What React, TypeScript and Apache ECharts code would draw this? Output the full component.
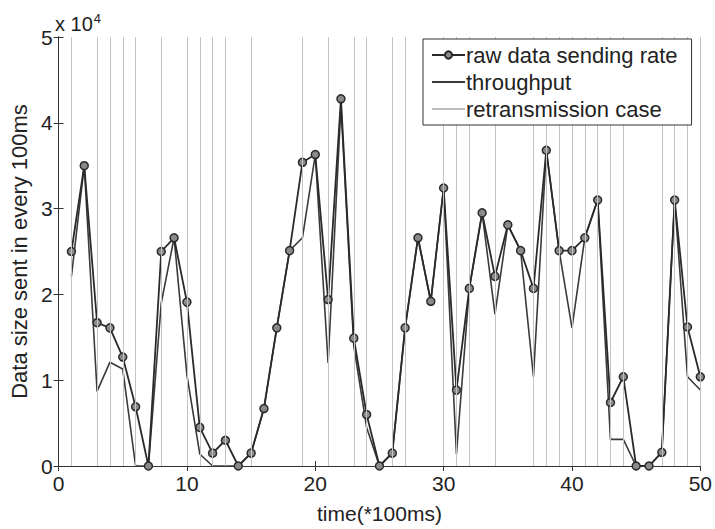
import React, { useEffect, useRef } from "react";
import * as echarts from "echarts";

const xValues = [1,2,3,4,5,6,7,8,9,10,11,12,13,14,15,16,17,18,19,20,21,22,23,24,25,26,27,28,29,30,31,32,33,34,35,36,37,38,39,40,41,42,43,44,45,46,47,48,49,50];

const rawRate = [25000,35000,16700,16100,12700,6900,0,25000,26600,19100,4500,1500,3000,0,1500,6700,16100,25100,35400,36300,19400,42800,14900,6000,0,1500,16100,26600,19200,32400,8850,20700,29500,22100,28100,25100,20700,36800,25100,25100,26600,31000,7400,10400,0,0,1600,31000,16200,10400];

const throughput = [22100,35000,8700,12100,11300,0,0,19000,26600,10600,1400,0,0,0,1500,6700,16100,25100,26600,36300,12000,42000,14000,4500,0,1500,16100,26600,19200,32400,1400,20700,29500,17700,28100,25100,10400,36800,25100,16100,26600,31000,3100,3100,0,0,1600,31000,10400,8850];

const retransmissionX = [1,3,4,5,6,8,10,11,12,13,15,19,21,23,24,26,27,30,31,32,34,37,38,39,40,41,42,43,44,47,48,49,50];

const FONT = "'Liberation Sans', Arial, sans-serif";
const LINE_ICON = "path://M0,0 L33,0 L33,2 L0,2 Z";

export default function App() {
  const ref = useRef<HTMLDivElement>(null);
  useEffect(() => {
    if (!ref.current) return;
    const chart = echarts.init(ref.current, undefined, { renderer: "svg" });
    const axisCommon = {
      type: "value" as const,
      axisLine: { show: true, lineStyle: { color: "#333", width: 1 } },
      axisTick: { show: true, inside: true, length: 5, lineStyle: { color: "#333" } },
      splitLine: { show: false },
    };
    chart.setOption({
      animation: false,
      backgroundColor: "#fff",
      textStyle: { fontFamily: FONT },
      grid: { left: 54, right: 12, top: 37, bottom: 57, containLabel: false },
      graphic: [
        {
          type: "text",
          left: 55,
          top: 12,
          style: {
            text: "{a|x 10}{b|4}",
            rich: {
              a: { fontSize: 20, fontFamily: FONT, fill: "#222", verticalAlign: "bottom" },
              b: { fontSize: 13, fontFamily: FONT, fill: "#222", verticalAlign: "top", padding: [0, 0, 9, 1] },
            },
          },
        },
      ],
      xAxis: [
        {
          ...axisCommon,
          min: 0,
          max: 50,
          interval: 10,
          name: "time(*100ms)",
          nameLocation: "middle",
          nameGap: 37,
          nameTextStyle: { fontSize: 21, color: "#222", fontFamily: FONT },
          axisLabel: { fontSize: 21, color: "#222", margin: 7, fontFamily: FONT },
        },
        {
          ...axisCommon,
          position: "top",
          min: 0,
          max: 50,
          interval: 10,
          axisLabel: { show: false },
        },
      ],
      yAxis: [
        {
          ...axisCommon,
          min: 0,
          max: 50000,
          interval: 10000,
          name: "Data size sent in every 100ms",
          nameLocation: "middle",
          nameGap: 28,
          nameTextStyle: { fontSize: 22, color: "#222", fontFamily: FONT },
          axisLabel: {
            fontSize: 21,
            color: "#222",
            margin: 6,
            fontFamily: FONT,
            formatter: (v: number) => String(v / 10000),
          },
        },
        {
          ...axisCommon,
          position: "right",
          min: 0,
          max: 50000,
          interval: 10000,
          axisLabel: { show: false },
        },
      ],
      legend: {
        orient: "vertical",
        left: 423,
        top: 39,
        itemWidth: 33,
        itemHeight: 9,
        itemGap: 5,
        padding: [5, 14, 5, 8],
        backgroundColor: "#fff",
        borderColor: "#333",
        borderWidth: 1,
        borderRadius: 0,
        textStyle: { fontSize: 22, color: "#222", fontFamily: FONT, padding: [0, 0, 0, -4] },
        data: [
          { name: "raw data sending rate" },
          { name: "throughput", icon: LINE_ICON },
          { name: "retransmission case", icon: LINE_ICON },
        ],
        z: 10,
      },
      series: [
        {
          name: "retransmission case",
          type: "line",
          data: [],
          symbol: "none",
          itemStyle: { color: "#bdbdbd" },
          lineStyle: { color: "#c4c4c4", width: 1 },
          markLine: {
            silent: true,
            symbol: ["none", "none"],
            label: { show: false },
            lineStyle: { color: "#c4c4c4", width: 1, type: "solid" },
            data: retransmissionX.map((x) => ({ xAxis: x })),
          },
          z: 1,
        },
        {
          name: "throughput",
          type: "line",
          data: xValues.map((x, i) => [x, throughput[i]]),
          symbol: "none",
          itemStyle: { color: "#3a3a3a" },
          lineStyle: { color: "#3a3a3a", width: 1.6 },
          z: 2,
        },
        {
          name: "raw data sending rate",
          type: "line",
          data: xValues.map((x, i) => [x, rawRate[i]]),
          symbol: "circle",
          symbolSize: 8,
          showAllSymbol: true,
          itemStyle: { color: "#8a8a8a", borderColor: "#2a2a2a", borderWidth: 1.5 },
          lineStyle: { color: "#2a2a2a", width: 1.8 },
          z: 3,
        },
      ],
    });
    return () => chart.dispose();
  }, []);
  return <div ref={ref} style={{ width: 715, height: 529, position: "absolute", left: 0, top: 0 }} />;
}
